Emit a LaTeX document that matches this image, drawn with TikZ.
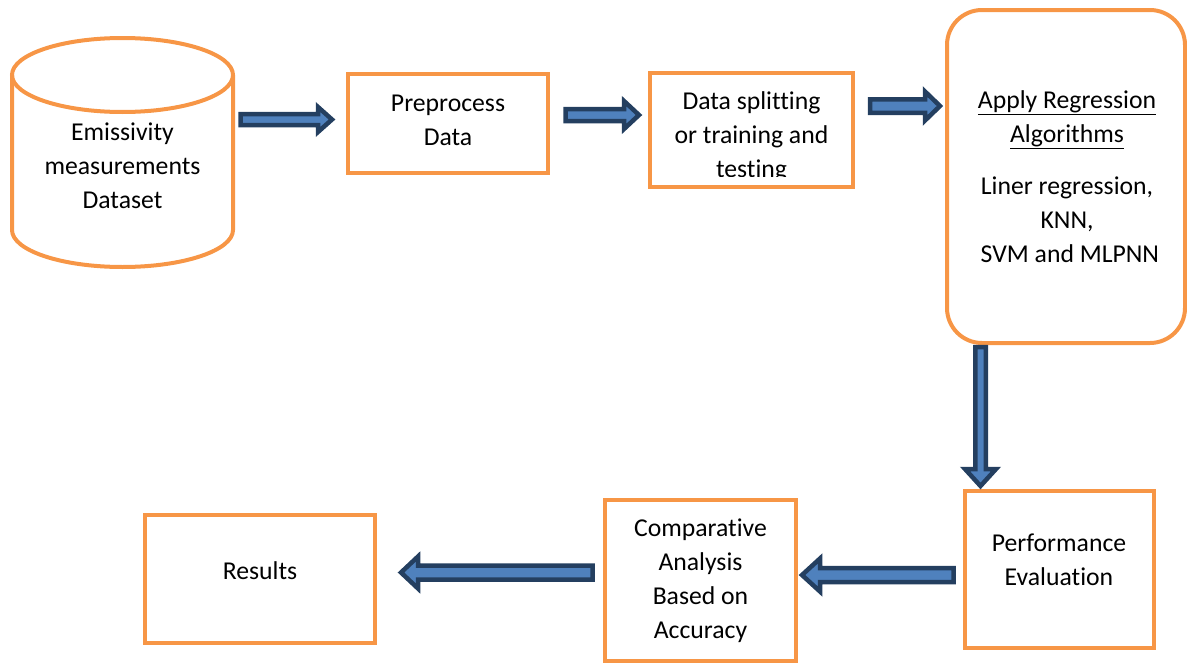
\documentclass[tikz,border=0pt]{standalone}
\usepackage{fontspec}
\setmainfont{Carlito}[Ligatures=NoCommon]
\usetikzlibrary{calc}
\definecolor{boxorange}{HTML}{F79646}
\definecolor{arrowfill}{HTML}{4F81BD}
\definecolor{arrowline}{HTML}{243F60}
\tikzset{
  stepbox/.style={draw=boxorange, line width=4pt, rectangle, inner sep=0pt},
  caption/.style={align=center, font=\fontsize{25.7}{34}\selectfont, inner sep=0pt},
  fatarrow/.style={draw=arrowline, fill=arrowfill, line width=4.5pt, line join=miter},
}
% block arrow from #1 to #2: shaft half width #3, head half width #4, head length #5
\newcommand\blockarrow[5]{%
  \coordinate (ba-base) at ($(#2)!#5!(#1)$);
  \draw[fatarrow] ($(#1)!#3!90:(#2)$) -- ($(ba-base)!#3!90:(#2)$)
    -- ($(ba-base)!#4!90:(#2)$) -- (#2) -- ($(ba-base)!#4!-90:(#2)$)
    -- ($(ba-base)!#3!-90:(#2)$) -- ($(#1)!#3!-90:(#2)$) -- cycle;
}
\begin{document}
\begin{tikzpicture}[x=1pt,y=1pt]
\useasboundingbox (0,0) rectangle (1187,-664);

% dataset cylinder
\draw[boxorange, line width=4pt] (12,-75) -- (12,-230)
  arc[start angle=180, end angle=360, x radius=110.5, y radius=37] -- (233,-75);
\draw[boxorange, line width=4pt] (122.5,-75) ellipse [x radius=110.5, y radius=37];
\node[caption, minimum width=221] (db) at (122.5,-165.5) {Emissivity\\measurements\\Dataset};

% process boxes
\node[stepbox, minimum width=200, minimum height=99] (pre) at (448,-123.5) {};
\node[caption] (pre-t) at (448,-120) {Preprocess\\Data};

\node[stepbox, minimum width=203, minimum height=114] (split) at (751.5,-130) {};
\begin{scope}
  \clip (650,-73) rectangle (853,-176.5);
  \node[caption] (split-t) at (751.5,-137) {Data splitting\\or training and\\testing};
\end{scope}

\node[stepbox, rounded corners=35, minimum width=238, minimum height=333] (alg) at (1066,-176.5) {};
\node[caption] (alg-t) at (1067,-177) {\underline{Apply Regression}\\\underline{Algorithms}\\[18pt]Liner regression,\\KNN,\\~SVM and MLPNN};

\node[stepbox, minimum width=189, minimum height=157] (perf) at (1059.5,-569.5) {};
\node[caption] (perf-t) at (1059,-560) {Performance\\Evaluation};

\node[stepbox, minimum width=191, minimum height=161] (comp) at (700.5,-580.5) {};
\node[caption] (comp-t) at (700.5,-581) {Comparative\\Analysis\\Based on\\Accuracy};

\node[stepbox, minimum width=230, minimum height=128] (res) at (260,-579) {};
\node[caption] (res-t) at (260,-571) {Results};

% arrow end points
\coordinate (a1s) at ($(db.east |- pre.west)+(7.5,4)$);
\coordinate (a1e) at ($(pre.west)+(-14,4)$);
\coordinate (a2s) at ($(pre.east)+(15.5,8.5)$);
\coordinate (a2e) at ($(split.west |- pre.east)+(-9,8.5)$);
\coordinate (a3s) at ($(split.east)+(15,24)$);
\coordinate (a3e) at ($(alg.west |- split.east)+(-5,24)$);
\coordinate (a4s) at ($(alg.south west)+(35.5,-2)$);
\coordinate (a4e) at ($(perf.north west)+(17.5,3)$);
\coordinate (a5s) at ($(perf.west)+(-9.5,-5.5)$);
\coordinate (a5e) at ($(comp.east |- perf.west)+(4,-5.5)$);
\coordinate (a6s) at ($(comp.west)+(-10.5,8)$);
\coordinate (a6e) at ($(res.east)+(24,6.5)$);

\blockarrow{a1s}{a1e}{5.5pt}{12.5pt}{14pt}
\blockarrow{a2s}{a2e}{6pt}{14pt}{15pt}
\blockarrow{a3s}{a3e}{6.75pt}{14.5pt}{15pt}
\blockarrow{a4s}{a4e}{5.25pt}{15.5pt}{17pt}
\blockarrow{a5s}{a5e}{7pt}{16.5pt}{18pt}
\blockarrow{a6s}{a6e}{7pt}{16pt}{17pt}
\end{tikzpicture}
\end{document}
